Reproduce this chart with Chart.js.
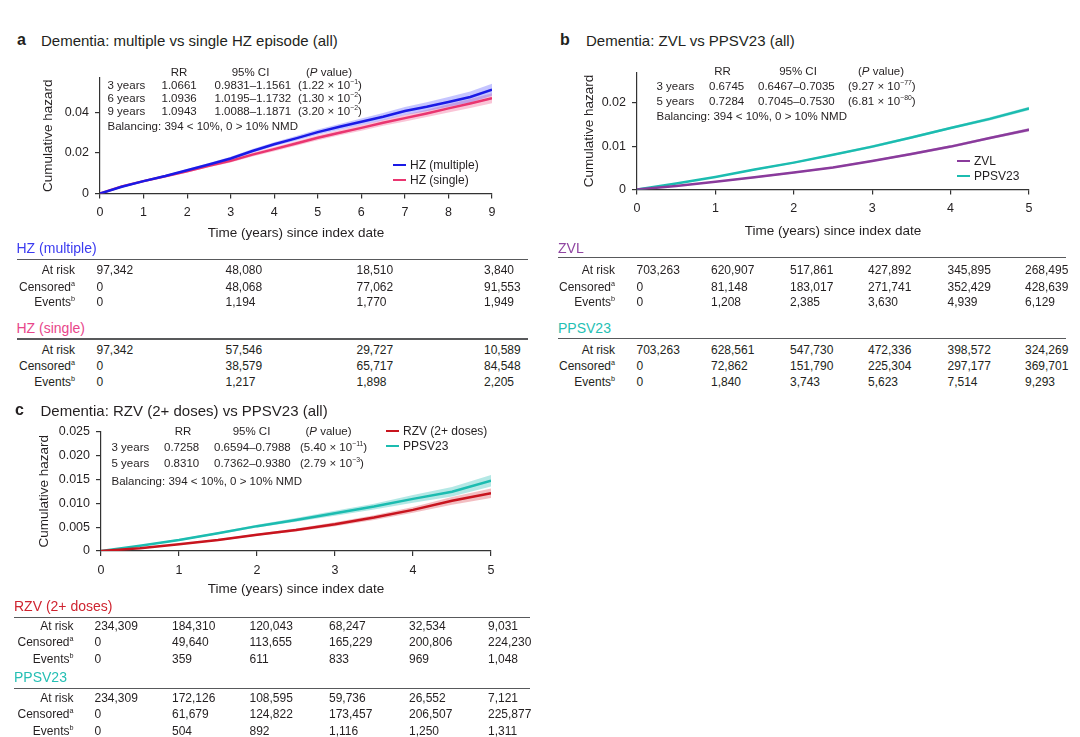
<!DOCTYPE html>
<html>
<head>
<meta charset="utf-8">
<script src="https://cdn.jsdelivr.net/npm/chart.js@4.4.1/dist/chart.umd.min.js"></script>
<style>
  body { margin: 0; background: #fff; }
  #page { position: relative; width: 1080px; height: 737px; overflow: hidden;
          font-family: 'Liberation Sans', Arial, sans-serif; color: #231f20; }
  .t { position: absolute; white-space: nowrap; line-height: 1; }
  .rule { position: absolute; height: 1.5px; background: #58595b; }
  .cv { position: absolute; }
  sup { font-size: 0.6em; line-height: 0; }
</style>
</head>
<body>
<div id="page">
  <div class="cv" style="left:0;top:60px;width:540px;height:190px"><canvas id="chartA"></canvas></div>
  <div class="cv" style="left:540px;top:55px;width:540px;height:190px"><canvas id="chartB"></canvas></div>
  <div class="cv" style="left:0;top:415px;width:540px;height:185px"><canvas id="chartC"></canvas></div>
</div>
<script>
// ---- panel a: multiple vs single HZ episode ----
var yearsA = [0, 0.5, 1, 1.5, 2, 2.5, 3, 3.5, 4, 4.5, 5, 5.5, 6, 6.5, 7, 7.5, 8, 8.5, 9];
var hzMultiple   = [0, 0.0033, 0.0061, 0.0086, 0.0115, 0.0143, 0.0173, 0.0210, 0.0243, 0.0272, 0.0303, 0.0329, 0.0354, 0.0379, 0.0407, 0.0428, 0.0452, 0.0476, 0.0512];
var hzMultipleHi = [0, 0.0036, 0.0065, 0.0091, 0.0121, 0.0150, 0.0181, 0.0219, 0.0253, 0.0284, 0.0316, 0.0343, 0.0370, 0.0397, 0.0427, 0.0450, 0.0476, 0.0503, 0.0542];
var hzMultipleLo = [0, 0.0030, 0.0057, 0.0081, 0.0109, 0.0136, 0.0165, 0.0201, 0.0233, 0.0260, 0.0290, 0.0315, 0.0338, 0.0361, 0.0387, 0.0406, 0.0428, 0.0449, 0.0482];
var hzSingle     = [0, 0.0035, 0.0061, 0.0085, 0.0110, 0.0137, 0.0161, 0.0192, 0.0219, 0.0247, 0.0275, 0.0300, 0.0324, 0.0349, 0.0372, 0.0395, 0.0420, 0.0444, 0.0470];
var hzSingleHi   = [0, 0.0038, 0.0065, 0.0090, 0.0116, 0.0144, 0.0169, 0.0201, 0.0229, 0.0258, 0.0287, 0.0313, 0.0338, 0.0364, 0.0389, 0.0413, 0.0440, 0.0466, 0.0495];
var hzSingleLo   = [0, 0.0032, 0.0057, 0.0080, 0.0104, 0.0130, 0.0153, 0.0183, 0.0209, 0.0236, 0.0263, 0.0287, 0.0310, 0.0334, 0.0355, 0.0377, 0.0400, 0.0422, 0.0445];
var yTicksA = [0, 0.02, 0.04];
var yLabelsA = ['0', '0.02', '0.04'];

// ---- panel b: ZVL vs PPSV23 ----
var yearsB = [0, 0.5, 1, 1.5, 2, 2.5, 3, 3.5, 4, 4.5, 5];
var zvl      = [0, 0.0008, 0.0018, 0.0028, 0.0039, 0.0051, 0.0066, 0.0082, 0.0099, 0.0119, 0.0138];
var zvlHi    = [0, 0.0009, 0.0019, 0.0030, 0.0041, 0.0053, 0.0068, 0.0085, 0.0102, 0.0122, 0.0142];
var zvlLo    = [0, 0.0007, 0.0017, 0.0026, 0.0037, 0.0049, 0.0064, 0.0079, 0.0096, 0.0116, 0.0134];
var ppsvB    = [0, 0.0014, 0.0029, 0.0046, 0.0062, 0.0080, 0.0099, 0.0120, 0.0142, 0.0163, 0.0187];
var ppsvBHi  = [0, 0.0015, 0.0030, 0.0048, 0.0064, 0.0082, 0.0102, 0.0123, 0.0145, 0.0167, 0.0191];
var ppsvBLo  = [0, 0.0013, 0.0028, 0.0044, 0.0060, 0.0078, 0.0096, 0.0117, 0.0139, 0.0159, 0.0183];
var yTicksB = [0, 0.01, 0.02];
var yLabelsB = ['0', '0.01', '0.02'];

// ---- panel c: RZV (2+ doses) vs PPSV23 ----
var yearsC = [0, 0.5, 1, 1.5, 2, 2.5, 3, 3.5, 4, 4.5, 5];
var rzv      = [0, 0.0006, 0.0014, 0.0023, 0.0034, 0.0044, 0.0056, 0.0070, 0.0086, 0.0105, 0.0121];
var rzvHi    = [0, 0.0007, 0.0015, 0.0025, 0.0036, 0.0047, 0.0060, 0.0075, 0.0092, 0.0113, 0.0131];
var rzvLo    = [0, 0.0005, 0.0013, 0.0021, 0.0032, 0.0041, 0.0052, 0.0065, 0.0080, 0.0097, 0.0111];
var ppsvC    = [0, 0.0011, 0.0023, 0.0037, 0.0052, 0.0065, 0.0079, 0.0093, 0.0109, 0.0124, 0.0147];
var ppsvCHi  = [0, 0.0012, 0.0025, 0.0039, 0.0055, 0.0069, 0.0084, 0.0099, 0.0117, 0.0134, 0.0159];
var ppsvCLo  = [0, 0.0010, 0.0021, 0.0035, 0.0049, 0.0061, 0.0074, 0.0087, 0.0101, 0.0114, 0.0135];
var yTicksC = [0, 0.005, 0.010, 0.015, 0.020, 0.025];
var yLabelsC = ['0', '0.005', '0.010', '0.015', '0.020', '0.025'];

// ---- in-plot statistics ----
var statRowsA = ['3 years', '6 years', '9 years'];
var statRrA   = ['1.0661', '1.0936', '1.0943'];
var statCiA   = ['0.9831–1.1561', '1.0195–1.1732', '1.0088–1.1871'];
var statPA    = [['1.22', '-1'], ['1.30', '-2'], ['3.20', '-2']];
var statRowsB = ['3 years', '5 years'];
var statRrB   = ['0.6745', '0.7284'];
var statCiB   = ['0.6467–0.7035', '0.7045–0.7530'];
var statPB    = [['9.27', '-77'], ['6.81', '-80']];
var statRowsC = ['3 years', '5 years'];
var statRrC   = ['0.7258', '0.8310'];
var statCiC   = ['0.6594–0.7988', '0.7362–0.9380'];
var statPC    = [['5.40', '-11'], ['2.79', '-3']];
var balancing = 'Balancing: 394 < 10%, 0 > 10% NMD';

// ---- numbers at risk tables ----
var rowLabels = ['At risk', 'Censored', 'Events'];
var rowSups = ['', 'a', 'b'];
var hzMultipleTable = [[97342, 48080, 18510, 3840], [0, 48068, 77062, 91553], [0, 1194, 1770, 1949]];
var hzSingleTable   = [[97342, 57546, 29727, 10589], [0, 38579, 65717, 84548], [0, 1217, 1898, 2205]];
var zvlTable   = [[703263, 620907, 517861, 427892, 345895, 268495], [0, 81148, 183017, 271741, 352429, 428639], [0, 1208, 2385, 3630, 4939, 6129]];
var ppsvBTable = [[703263, 628561, 547730, 472336, 398572, 324269], [0, 72862, 151790, 225304, 297177, 369701], [0, 1840, 3743, 5623, 7514, 9293]];
var rzvTable   = [[234309, 184310, 120043, 68247, 32534, 9031], [0, 49640, 113655, 165229, 200806, 224230], [0, 359, 611, 833, 969, 1048]];
var ppsvCTable = [[234309, 172126, 108595, 59736, 26552, 7121], [0, 61679, 124822, 173457, 206507, 225877], [0, 504, 892, 1116, 1250, 1311]];

var COL = {
  blue: '#1a1ae6', blueBand: 'rgba(90,90,255,0.35)', blueText: '#3b3bf0',
  pink: '#ea3570', pinkBand: 'rgba(240,90,140,0.35)', pinkText: '#e8468a',
  purple: '#8a3b9c', purpleBand: 'rgba(150,80,170,0.35)', purpleText: '#9046a2',
  teal: '#1cbcb0', tealBand: 'rgba(40,190,180,0.35)', tealText: '#25bfb4',
  red: '#c8141e', redBand: 'rgba(220,70,80,0.35)', redText: '#cf2430'
};

var page = document.getElementById('page');

function put(html, x, cy, size, opts) {
  opts = opts || {};
  var d = document.createElement('div');
  d.className = 't';
  d.innerHTML = html;
  d.style.left = x + 'px';
  d.style.top = cy + 'px';
  d.style.fontSize = size + 'px';
  if (opts.bold) d.style.fontWeight = 'bold';
  if (opts.color) d.style.color = opts.color;
  var tx = opts.align === 'right' ? '-100%' : opts.align === 'center' ? '-50%' : '0';
  d.style.transform = 'translate(' + tx + ',-50%)';
  page.appendChild(d);
  return d;
}

function rule(x1, x2, y) {
  var d = document.createElement('div');
  d.className = 'rule';
  d.style.left = x1 + 'px';
  d.style.width = (x2 - x1) + 'px';
  d.style.top = y + 'px';
  page.appendChild(d);
}

function fmt(n) {
  return String(n).replace(/\B(?=(\d{3})+(?!\d))/g, ',');
}

function pts(xs, ys) {
  return xs.map(function (x, i) { return { x: x, y: ys[i] }; });
}

// line + confidence band datasets (lines first so they sit on top)
function kmDatasets(xs, list) {
  var ds = [];
  list.forEach(function (s) {
    ds.push({ data: pts(xs, s.y), borderColor: s.color, borderWidth: 2.5, pointRadius: 0, fill: false, tension: 0 });
  });
  list.forEach(function (s) {
    var hiIndex = ds.length;
    ds.push({ data: pts(xs, s.hi), borderWidth: 0, pointRadius: 0, fill: false });
    ds.push({ data: pts(xs, s.lo), borderWidth: 0, pointRadius: 0, fill: hiIndex, backgroundColor: s.band });
  });
  return ds;
}

Chart.defaults.font.family = "'Liberation Sans', Arial, sans-serif";
Chart.defaults.color = '#231f20';

function kmChart(id, box, area, xMax, yMax, yTicks, yLabels, datasets, yTitlePad, xTitlePad) {
  var ctx = document.getElementById(id).getContext('2d');
  return new Chart(ctx, {
    type: 'line',
    data: { datasets: datasets },
    options: {
      responsive: true,
      maintainAspectRatio: false,
      animation: false,
      layout: {
        padding: { left: 0, top: area.top - box.top, right: box.left + box.w - area.right, bottom: 0 }
      },
      plugins: { legend: { display: false }, tooltip: { enabled: false } },
      scales: {
        x: {
          type: 'linear', min: 0, max: xMax,
          border: { color: '#333', width: 1.2 },
          grid: { drawOnChartArea: false, drawTicks: true, tickLength: 5, color: '#333', lineWidth: 1.2 },
          ticks: { stepSize: 1, padding: 7, font: { size: 12.5 }, color: '#231f20' },
          title: { display: true, text: 'Time (years) since index date', font: { size: 13.5 }, color: '#231f20', padding: { top: 0, bottom: xTitlePad } },
          afterFit: function (s) { s.height = box.top + box.h - area.bottom; s.paddingLeft = 0; s.paddingRight = 0; }
        },
        y: {
          type: 'linear', min: 0, max: yMax,
          border: { color: '#333', width: 1.2 },
          grid: { drawOnChartArea: false, drawTicks: true, tickLength: 5, color: '#333', lineWidth: 1.2 },
          afterBuildTicks: function (s) { s.ticks = yTicks.map(function (v) { return { value: v }; }); },
          ticks: {
            padding: 6, font: { size: 12.5 }, color: '#231f20',
            callback: function (v) { var i = yTicks.indexOf(v); return i >= 0 ? yLabels[i] : ''; }
          },
          title: { display: true, text: 'Cumulative hazard', font: { size: 13.5 }, color: '#231f20', padding: { top: yTitlePad, bottom: 0 } },
          afterFit: function (s) { s.width = area.left - box.left; s.paddingTop = 0; s.paddingBottom = 0; }
        }
      }
    }
  });
}

// ---- charts ----
kmChart('chartA', { left: 0, top: 60, w: 540, h: 190 }, { left: 100, right: 492, top: 78, bottom: 193.5 },
  9, 0.057, yTicksA, yLabelsA,
  kmDatasets(yearsA, [
    { y: hzMultiple, hi: hzMultipleHi, lo: hzMultipleLo, color: COL.blue, band: COL.blueBand },
    { y: hzSingle, hi: hzSingleHi, lo: hzSingleLo, color: COL.pink, band: COL.pinkBand }
  ]), 40, 9);

kmChart('chartB', { left: 540, top: 55, w: 540, h: 190 }, { left: 637, right: 1029, top: 72.5, bottom: 189.5 },
  5, 0.027, yTicksB, yLabelsB,
  kmDatasets(yearsB, [
    { y: zvl, hi: zvlHi, lo: zvlLo, color: COL.purple, band: COL.purpleBand },
    { y: ppsvB, hi: ppsvBHi, lo: ppsvBLo, color: COL.teal, band: COL.tealBand }
  ]), 41, 6);

kmChart('chartC', { left: 0, top: 415, w: 540, h: 185 }, { left: 101, right: 491, top: 431.5, bottom: 551 },
  5, 0.025, yTicksC, yLabelsC,
  kmDatasets(yearsC, [
    { y: rzv, hi: rzvHi, lo: rzvLo, color: COL.red, band: COL.redBand },
    { y: ppsvC, hi: ppsvCHi, lo: ppsvCLo, color: COL.teal, band: COL.tealBand }
  ]), 36, 3);

// ---- panel titles ----
put('a', 17, 39.5, 16, { bold: true });
put('Dementia: multiple vs single HZ episode (all)', 41, 39.5, 15);
put('b', 560, 39.5, 16, { bold: true });
put('Dementia: ZVL vs PPSV23 (all)', 586, 39.5, 15);
put('c', 15, 410, 16, { bold: true });
put('Dementia: RZV (2+ doses) vs PPSV23 (all)', 40.5, 410, 15);

// ---- statistics blocks ----
function stats(rows, rr, ci, p, head, cols, rowY, balY) {
  var fs = 11.5;
  put('RR', head[0], head[3], fs, { align: 'center' });
  put('95% CI', head[1], head[3], fs, { align: 'center' });
  put('(<i>P</i> value)', head[2], head[3], fs, { align: 'center' });
  rows.forEach(function (r, i) {
    put(r, cols[0], rowY[i], fs);
    put(rr[i], cols[1], rowY[i], fs);
    put(ci[i], cols[2], rowY[i], fs);
    put('(' + p[i][0] + ' × 10<sup>' + p[i][1].replace('-', '−') + '</sup>)', cols[3], rowY[i], fs);
  });
  put(balancing, cols[0], balY, fs);
}
stats(statRowsA, statRrA, statCiA, statPA, [179, 250.5, 329, 72.5], [107.5, 161.5, 214.5, 298], [85.7, 99, 112.3], 126.7);
stats(statRowsB, statRrB, statCiB, statPB, [722.5, 798, 881, 71.5], [656.5, 709, 758, 848], [86.5, 101.7], 116.9);
stats(statRowsC, statRrC, statCiC, statPC, [183, 251.5, 328.5, 431.5], [111.5, 164, 214, 300], [448, 464.3], 482);

// ---- legends ----
function legendItem(x, y, color, text) {
  var d = document.createElement('div');
  d.style.position = 'absolute';
  d.style.left = x + 'px';
  d.style.top = (y - 1.25) + 'px';
  d.style.width = '13px';
  d.style.height = '2.5px';
  d.style.background = color;
  page.appendChild(d);
  put(text, x + 17, y, 12);
}
legendItem(393, 165, COL.blue, 'HZ (multiple)');
legendItem(393, 180, COL.pink, 'HZ (single)');
legendItem(957, 161, COL.purple, 'ZVL');
legendItem(957, 176, COL.teal, 'PPSV23');
legendItem(386, 431, COL.red, 'RZV (2+ doses)');
legendItem(386, 446, COL.teal, 'PPSV23');

// ---- numbers at risk ----
function riskTable(name, color, table, titleY, ruleX, ruleY, labelRight, colX, rowY) {
  put(name, ruleX[0], titleY, 14, { color: color });
  rule(ruleX[0], ruleX[1], ruleY);
  rowLabels.forEach(function (lab, r) {
    var txt = lab + (rowSups[r] ? '<sup>' + rowSups[r] + '</sup>' : '');
    put(txt, labelRight, rowY[r], 12, { align: 'right' });
    table[r].forEach(function (v, c) {
      put(fmt(v), colX[c], rowY[r], 12);
    });
  });
}
var colsA = [96.5, 225.5, 356.5, 484];
var colsB = [636.5, 711, 790, 868, 947.5, 1025];
var colsC = [94.5, 172, 249.5, 329, 409, 488];
riskTable('HZ (multiple)', COL.blueText, hzMultipleTable, 247.5, [16.5, 528], 258.5, 75, colsA, [270, 286.5, 302]);
riskTable('HZ (single)', COL.pinkText, hzSingleTable, 327.5, [16.5, 528], 338, 75, colsA, [349.5, 366, 382]);
riskTable('ZVL', COL.purpleText, zvlTable, 247.5, [558, 1066], 256.5, 615, colsB, [270, 286.5, 302]);
riskTable('PPSV23', COL.tealText, ppsvBTable, 327.5, [558, 1066], 337.5, 615, colsB, [349.5, 366, 382]);
riskTable('RZV (2+ doses)', COL.redText, rzvTable, 606, [14, 530], 616.5, 73.5, colsC, [625.5, 642, 658.5]);
riskTable('PPSV23', COL.tealText, ppsvCTable, 676.5, [14, 530], 687.5, 73.5, colsC, [697.5, 714, 730.5]);
</script>
</body>
</html>
